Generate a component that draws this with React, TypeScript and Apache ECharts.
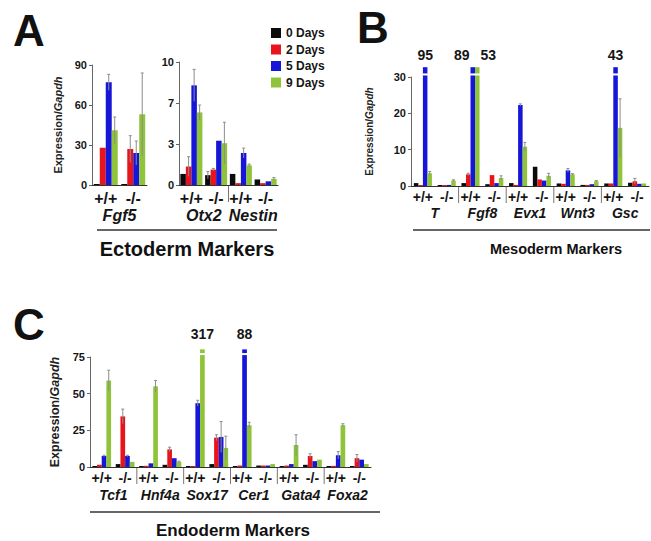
import React, { useEffect, useRef } from 'react';
import * as echarts from 'echarts';

const FONT = '"Liberation Sans", Arial, Helvetica, sans-serif';
const dayNames = ['0 Days', '2 Days', '5 Days', '9 Days'];
const dayColors = ['#0b0b0b', '#e8141c', '#1616d8', '#8fc43a'];

// ---- Panel A (left): Fgf5 ----
const aLeftGenotypes = ['+/+', '-/-'];
const aLeftGenes = ['Fgf5'];
const aLeftDay0 = [0.5, 0.5];
const aLeftDay2 = [28, 27];
const aLeftDay5 = [77, 24];
const aLeftDay9 = [41, 53];
const aLeftErr0 = [0, 0];
const aLeftErr2 = [0, 10];
const aLeftErr5 = [6, 9];
const aLeftErr9 = [10, 31];
const aLeftTicks = [0, 30, 60, 90];

// ---- Panel A (right): Otx2, Nestin ----
const aRightGenotypes = ['+/+', '-/-', '+/+', '-/-'];
const aRightGenes = ['Otx2', 'Nestin'];
const aRightDay0 = [0.9, 0.8, 0.9, 0.45];
const aRightDay2 = [1.5, 1.25, 0.15, 0.15];
const aRightDay5 = [8.1, 3.6, 2.6, 0.3];
const aRightDay9 = [5.9, 3.4, 1.6, 0.5];
const aRightErr0 = [0, 0.3, 0, 0];
const aRightErr2 = [0.8, 0.1, 0, 0];
const aRightErr5 = [1.3, 0, 0.4, 0];
const aRightErr9 = [0.6, 1.7, 0.1, 0.1];
const aRightTickLabels = ['0', '3', '7', '10'];

// ---- Panel B: Mesoderm ----
const bGenotypes = ['+/+', '-/-', '+/+', '-/-', '+/+', '-/-', '+/+', '-/-', '+/+', '-/-'];
const bGenes = ['T', 'Fgf8', 'Evx1', 'Wnt3', 'Gsc'];
const bDay0 = [0.8, 0.1, 0.8, 0.5, 0.8, 5.3, 0.7, 0.3, 0.7, 0.9];
const bDay2 = [0.2, 0.1, 3.2, 3.0, 0.3, 1.8, 0.6, 0.3, 0.7, 1.3];
const bDay5 = [95, 0.3, 89, 0.8, 22.3, 1.5, 4.3, 0.5, 43, 0.6];
const bDay9 = [3.5, 1.5, 53, 2.2, 10.8, 2.8, 3.2, 1.3, 16, 0.7];
const bErr0 = [0, 0, 0, 0, 0, 0, 0, 0, 0, 0];
const bErr2 = [0, 0, 0.3, 0, 0, 0, 0, 0, 0, 0.8];
const bErr5 = [0, 0, 0, 0, 0.3, 0, 0.5, 0, 0, 0];
const bErr9 = [0.5, 0.2, 0, 0.6, 1.2, 0.7, 0.2, 0.2, 8, 0];
const bTicks = [0, 10, 20, 30];

// ---- Panel C: Endoderm ----
const cGenotypes = ['+/+', '-/-', '+/+', '-/-', '+/+', '-/-', '+/+', '-/-', '+/+', '-/-', '+/+', '-/-'];
const cGenes = ['Tcf1', 'Hnf4a', 'Sox17', 'Cer1', 'Gata4', 'Foxa2'];
const cDay0 = [0.5, 2, 0.5, 1.5, 0.5, 2, 0.5, 1, 0.5, 1.5, 0.5, 0.5];
const cDay2 = [1.5, 34.5, 0.8, 12, 0.5, 20, 1, 1, 1, 7.5, 0.8, 6];
const cDay5 = [7.5, 7.5, 2.5, 6, 43.5, 20.5, 88, 1, 2, 4, 8, 5];
const cDay9 = [59, 3.5, 55, 3.5, 317, 13, 28.5, 2, 15, 5, 28.5, 2];
const cErr0 = [0, 0, 0, 0, 0, 0, 0, 0, 0, 0, 0, 0];
const cErr2 = [0, 5, 0, 1.5, 0, 2, 0, 0, 0, 1.5, 0, 2.5];
const cErr5 = [0.5, 0.5, 0, 0, 2, 10.5, 0, 0, 0, 0, 2.5, 0];
const cErr9 = [7, 0, 4, 0.5, 0, 8, 2, 0, 7, 0, 1, 0];
const cTicks = [0, 25, 50, 75];

type PanelCfg = {
  genotypes: string[];
  genes: string[];
  values: number[][];
  errors: number[][];
  ticks: number[];
  tickLabels?: string[];
  grid: { left: number; top: number; width: number; height: number };
  fill: number;
  clipTop?: number;
  breakAt?: number;
  labelGap: number;
  numFont: number;
  labelFont: number;
  labelMargin: number;
  geneFont: number;
  geneOffset: number;
  tickFont: number;
  showName: boolean;
  nameFont: number;
  nameGap: number;
};

const panels: PanelCfg[] = [
  {
    genotypes: aLeftGenotypes, genes: aLeftGenes,
    values: [aLeftDay0, aLeftDay2, aLeftDay5, aLeftDay9],
    errors: [aLeftErr0, aLeftErr2, aLeftErr5, aLeftErr9],
    ticks: aLeftTicks,
    grid: { left: 92, top: 65, width: 55, height: 120 },
    fill: 0.87, labelGap: 5, numFont: 14,
    labelFont: 16, labelMargin: 5, geneFont: 16, geneOffset: 17,
    tickFont: 11, showName: true, nameFont: 11, nameGap: 29,
  },
  {
    genotypes: aRightGenotypes, genes: aRightGenes,
    values: [aRightDay0, aRightDay2, aRightDay5, aRightDay9],
    errors: [aRightErr0, aRightErr2, aRightErr5, aRightErr9],
    ticks: [0, 10 / 3, 20 / 3, 10], tickLabels: aRightTickLabels,
    grid: { left: 179, top: 62, width: 99, height: 123 },
    fill: 0.89, labelGap: 5, numFont: 14,
    labelFont: 16, labelMargin: 5, geneFont: 16, geneOffset: 17,
    tickFont: 11, showName: false, nameFont: 11, nameGap: 29,
  },
  {
    genotypes: bGenotypes, genes: bGenes,
    values: [bDay0, bDay2, bDay5, bDay9],
    errors: [bErr0, bErr2, bErr5, bErr9],
    ticks: bTicks,
    grid: { left: 411, top: 77, width: 238, height: 109 },
    fill: 0.76, clipTop: 32.7, breakAt: 30.7, labelGap: 5, numFont: 14,
    labelFont: 14, labelMargin: 4, geneFont: 14, geneOffset: 16,
    tickFont: 11, showName: true, nameFont: 10, nameGap: 37,
  },
  {
    genotypes: cGenotypes, genes: cGenes,
    values: [cDay0, cDay2, cDay5, cDay9],
    errors: [cErr0, cErr2, cErr5, cErr9],
    ticks: cTicks,
    grid: { left: 90, top: 357, width: 281, height: 110 },
    fill: 0.8, clipTop: 80.2, breakAt: 77, labelGap: 8, numFont: 14,
    labelFont: 14, labelMargin: 4, geneFont: 14, geneOffset: 17,
    tickFont: 11, showName: true, nameFont: 12.5, nameGap: 29,
  },
];

function barRender(p: PanelCfg, d: number) {
  return (_params: any, api: any) => {
    const cat = api.value(0) as number;
    const v = api.value(1) as number;
    const e = api.value(2) as number;
    const band = api.size([1, 0])[0];
    const bw = (band * p.fill) / 4;
    const base = api.coord([cat, 0]);
    const cx = base[0] + (d - 1.5) * bw;
    const clipped = p.clipTop != null && v > p.clipTop;
    const shown = clipped ? (p.clipTop as number) : v;
    const top = api.coord([cat, shown])[1];
    const h = Math.max(base[1] - top, 1);
    const children: any[] = [
      { type: 'rect', shape: { x: cx - bw / 2, y: base[1] - h, width: bw, height: h }, style: { fill: dayColors[d] } },
    ];
    if (clipped) {
      const by = api.coord([cat, p.breakAt])[1];
      children.push({ type: 'rect', shape: { x: cx - bw / 2 - 0.5, y: by - 1, width: bw + 1, height: 2 }, style: { fill: '#ffffff' } });
      let dx = 0;
      if (d === 2 && p.values[3][cat] > (p.clipTop as number)) dx = -11;
      if (d === 3 && p.values[2][cat] > (p.clipTop as number)) dx = 11;
      children.push({
        type: 'text', x: cx + dx, y: top - p.labelGap,
        style: { text: String(v), align: 'center', verticalAlign: 'bottom', fontSize: p.numFont, fontWeight: 'bold', fontFamily: FONT, fill: '#151515' },
      });
    } else if (e > 0) {
      const y1 = api.coord([cat, v + e])[1];
      const y0 = api.coord([cat, Math.max(v - e, 0)])[1];
      children.push({ type: 'line', shape: { x1: cx, y1: y0, x2: cx, y2: y1 }, style: { stroke: '#8c8c8c', lineWidth: 1 } });
      children.push({ type: 'line', shape: { x1: cx - 1.5, y1: y1, x2: cx + 1.5, y2: y1 }, style: { stroke: '#8c8c8c', lineWidth: 1 } });
    }
    return { type: 'group', children };
  };
}

function sepRender(_params: any, api: any) {
  const idx = api.value(0) as number;
  const band = api.size([1, 0])[0];
  const pt = api.coord([idx, 0]);
  const x = pt[0] - band / 2;
  return { type: 'line', shape: { x1: x, y1: pt[1] + 1, x2: x, y2: pt[1] + 17 }, style: { stroke: '#777', lineWidth: 1 } };
}

function buildOption(): any {
  const grid: any[] = [];
  const xAxis: any[] = [];
  const yAxis: any[] = [];
  const series: any[] = [];
  panels.forEach((p, g) => {
    grid.push({ ...p.grid, containLabel: false });
    xAxis.push({
      type: 'category', gridIndex: g, data: p.genotypes, position: 'bottom',
      axisLine: { show: true, lineStyle: { color: '#333', width: 1 } },
      axisTick: { show: false },
      axisLabel: { interval: 0, margin: p.labelMargin, fontSize: p.labelFont, fontWeight: 'bold', fontFamily: FONT, color: '#151515' },
    });
    xAxis.push({
      type: 'category', gridIndex: g, data: p.genes, position: 'bottom', offset: p.geneOffset,
      axisLine: { show: false }, axisTick: { show: false },
      axisLabel: { interval: 0, margin: p.labelMargin, fontSize: p.geneFont, fontWeight: 'bold', fontStyle: 'italic', fontFamily: FONT, color: '#151515' },
    });
    const ticks = p.ticks;
    const interval = ticks[1] - ticks[0];
    yAxis.push({
      type: 'value', gridIndex: g, min: ticks[0], max: ticks[ticks.length - 1], interval,
      name: p.showName ? '{n|Expression/}{i|Gapdh}' : '',
      nameLocation: 'middle', nameGap: p.nameGap, nameRotate: 90,
      nameTextStyle: {
        rich: {
          n: { fontSize: p.nameFont, fontWeight: 'bold', fontFamily: FONT, color: '#222' },
          i: { fontSize: p.nameFont, fontWeight: 'bold', fontStyle: 'italic', fontFamily: FONT, color: '#222' },
        },
      },
      axisLine: { show: true, lineStyle: { color: '#666', width: 1 } },
      axisTick: { show: true, length: 3, lineStyle: { color: '#666' } },
      splitLine: { show: false },
      axisLabel: {
        margin: 5, fontSize: p.tickFont, fontWeight: 'bold', fontFamily: FONT, color: '#151515',
        formatter: (val: number) => {
          if (p.tickLabels) {
            const i = Math.round(val / interval);
            return p.tickLabels[i] ?? '';
          }
          return String(Math.round(val));
        },
      },
    });
    for (let d = 0; d < 4; d++) {
      series.push({
        type: 'custom', name: dayNames[d], xAxisIndex: 2 * g, yAxisIndex: g,
        itemStyle: { color: dayColors[d] },
        renderItem: barRender(p, d),
        encode: { x: 0, y: 1 },
        data: p.values[d].map((v, i) => [i, v, p.errors[d][i]]),
        clip: false,
      });
    }
    const seps: number[][] = [];
    for (let k = 1; k < p.genes.length; k++) seps.push([k * 2, 0]);
    if (seps.length) {
      series.push({
        type: 'custom', name: 'sep' + g, xAxisIndex: 2 * g, yAxisIndex: g,
        renderItem: sepRender, encode: { x: 0, y: 1 }, data: seps, clip: false, silent: true,
      });
    }
  });

  const txt = (text: string, x: number, y: number, fontSize: number) => ({
    type: 'text', x, y,
    style: { text, align: 'center', verticalAlign: 'middle', fontSize, fontWeight: 'bold', fontFamily: FONT, fill: '#111' },
  });

  return {
    animation: false,
    backgroundColor: '#ffffff',
    color: dayColors,
    grid, xAxis, yAxis, series,
    legend: {
      data: dayNames.map((n) => ({ name: n, icon: 'rect' })),
      orient: 'vertical', left: 271, top: 27, padding: 0,
      itemWidth: 10, itemHeight: 10, itemGap: 4.5,
      textStyle: { fontSize: 12, fontWeight: 'bold', fontFamily: FONT, color: '#151515', lineHeight: 12, padding: [0, 0, 0, 0] },
    },
    graphic: [
      txt('A', 29, 30, 44),
      txt('B', 373, 27, 44),
      txt('C', 29, 324, 44),
      txt('Ectoderm Markers', 187, 249, 20),
      txt('Mesoderm Markers', 556, 249, 14.5),
      txt('Endoderm Markers', 233, 530, 17),
      { type: 'line', shape: { x1: 97, y1: 230, x2: 277, y2: 230 }, style: { stroke: '#333', lineWidth: 1.5 } },
      { type: 'line', shape: { x1: 413, y1: 230, x2: 650, y2: 230 }, style: { stroke: '#333', lineWidth: 1.5 } },
      { type: 'line', shape: { x1: 90, y1: 512, x2: 380, y2: 512 }, style: { stroke: '#333', lineWidth: 1.5 } },
    ],
  };
}

export default function App() {
  const ref = useRef<HTMLDivElement>(null);
  useEffect(() => {
    if (!ref.current) return;
    const chart = echarts.init(ref.current, undefined, { renderer: 'svg' });
    chart.setOption(buildOption());
    return () => chart.dispose();
  }, []);
  return <div ref={ref} style={{ position: 'absolute', left: 0, top: 0, width: 651, height: 541 }} />;
}
